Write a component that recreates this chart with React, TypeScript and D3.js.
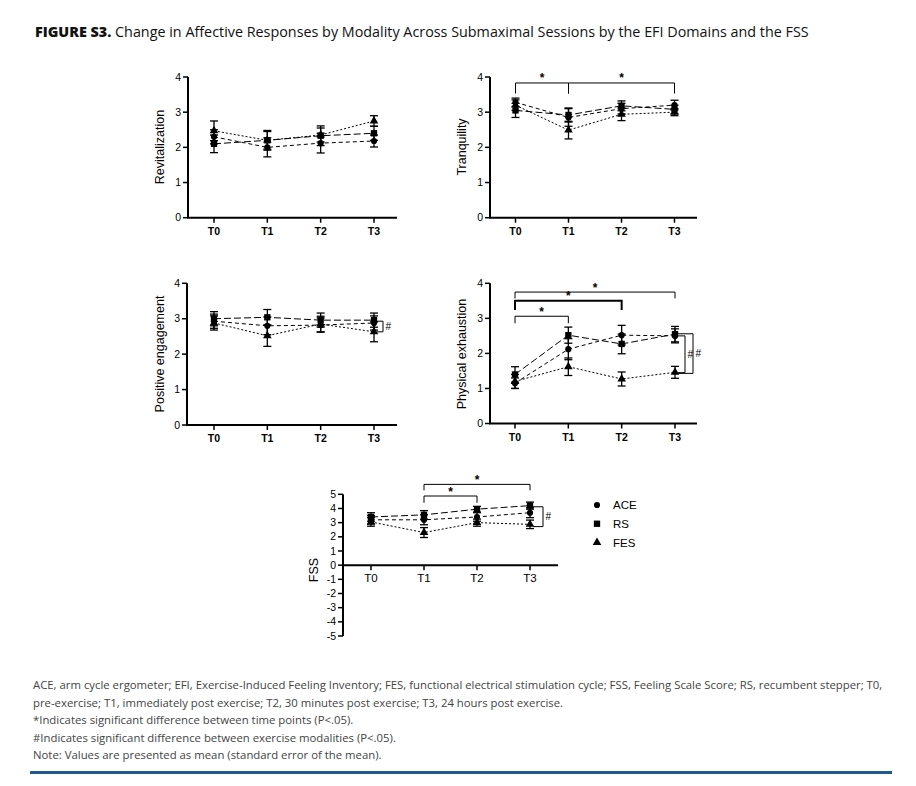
import * as d3 from 'd3';

const TIMES = ['T0', 'T1', 'T2', 'T3'];
const MODALITIES = ['ACE', 'RS', 'FES'];

// Revitalization (mean, SEM) per modality
const REV_ACE = [2.3, 2.0, 2.12, 2.18];
const REV_ACE_SEM = [0.2, 0.27, 0.28, 0.17];
const REV_RS = [2.1, 2.2, 2.33, 2.4];
const REV_RS_SEM = [0.25, 0.28, 0.28, 0.2];
const REV_FES = [2.47, 2.2, 2.35, 2.75];
const REV_FES_SEM = [0.28, 0.25, 0.2, 0.15];

// Tranquility
const TRA_ACE = [3.28, 2.85, 3.1, 3.2];
const TRA_ACE_SEM = [0.12, 0.25, 0.15, 0.14];
const TRA_RS = [3.05, 2.92, 3.18, 3.08];
const TRA_RS_SEM = [0.2, 0.2, 0.14, 0.12];
const TRA_FES = [3.2, 2.49, 2.94, 3.0];
const TRA_FES_SEM = [0.15, 0.25, 0.18, 0.1];

// Positive engagement
const POS_ACE = [2.93, 2.8, 2.82, 2.88];
const POS_ACE_SEM = [0.2, 0.25, 0.2, 0.2];
const POS_RS = [3.0, 3.04, 2.96, 2.96];
const POS_RS_SEM = [0.2, 0.22, 0.2, 0.2];
const POS_FES = [2.88, 2.52, 2.85, 2.63];
const POS_FES_SEM = [0.2, 0.3, 0.22, 0.28];

// Physical exhaustion
const PHY_ACE = [1.15, 2.12, 2.52, 2.5];
const PHY_ACE_SEM = [0.15, 0.3, 0.28, 0.2];
const PHY_RS = [1.4, 2.52, 2.27, 2.55];
const PHY_RS_SEM = [0.22, 0.23, 0.28, 0.22];
const PHY_FES = [1.2, 1.62, 1.27, 1.46];
const PHY_FES_SEM = [0.2, 0.25, 0.2, 0.17];

// Feeling Scale Score
const FSS_ACE = [3.2, 3.2, 3.4, 3.7];
const FSS_ACE_SEM = [0.3, 0.35, 0.3, 0.35];
const FSS_RS = [3.4, 3.55, 3.95, 4.2];
const FSS_RS_SEM = [0.3, 0.3, 0.2, 0.25];
const FSS_FES = [3.05, 2.3, 3.0, 2.88];
const FSS_FES_SEM = [0.3, 0.35, 0.25, 0.3];

const FOOTNOTES = [
  'ACE, arm cycle ergometer; EFI, Exercise-Induced Feeling Inventory; FES, functional electrical stimulation cycle; FSS, Feeling Scale Score; RS, recumbent stepper; T0,',
  'pre-exercise; T1, immediately post exercise; T2, 30 minutes post exercise; T3, 24 hours post exercise.',
  '*Indicates significant difference between time points (P<.05).',
  '#Indicates significant difference between exercise modalities (P<.05).',
  'Note: Values are presented as mean (standard error of the mean).',
];

const DASH: Record<string, string> = { ACE: '4,3', RS: '7,3', FES: '2,2' };
const SYMBOL: Record<string, d3.SymbolType> = {
  ACE: d3.symbolCircle,
  RS: d3.symbolSquare,
  FES: d3.symbolTriangle,
};
const SYMBOL_SIZE: Record<string, number> = { ACE: 30, RS: 40, FES: 32 };

const AXIS_FONT = '"Liberation Sans", Arial, sans-serif';
const TEXT_FONT = '"Open Sans", "Noto Sans", sans-serif';

type Series = { name: string; mean: number[]; sem: number[] };
type Bracket = { from: string; to: string; level: number; drop: number; bold?: boolean };
type Hash = { top: number; bottom: number; dx: number };

interface PanelCfg {
  title: string;
  series: Series[];
  axisX: number;
  axisEnd: number;
  t0: number;
  t3: number;
  yTop: number;
  yBottom: number;
  domain: [number, number];
  zeroAxis?: boolean;
  boldTicks: boolean;
  titleX: number;
  titleY: number;
  brackets: Bracket[];
  hashes: Hash[];
}

const mk = (a: number[], as: number[], b: number[], bs: number[], c: number[], cs: number[]): Series[] => [
  { name: 'ACE', mean: a, sem: as },
  { name: 'RS', mean: b, sem: bs },
  { name: 'FES', mean: c, sem: cs },
];

const PANELS: PanelCfg[] = [
  {
    title: 'Revitalization',
    series: mk(REV_ACE, REV_ACE_SEM, REV_RS, REV_RS_SEM, REV_FES, REV_FES_SEM),
    axisX: 188, axisEnd: 397, t0: 214, t3: 374, yTop: 77, yBottom: 217.7, domain: [0, 4],
    boldTicks: true, titleX: 164, titleY: 147, brackets: [], hashes: [],
  },
  {
    title: 'Tranquility',
    series: mk(TRA_ACE, TRA_ACE_SEM, TRA_RS, TRA_RS_SEM, TRA_FES, TRA_FES_SEM),
    axisX: 490, axisEnd: 697, t0: 515.5, t3: 674.5, yTop: 77, yBottom: 217.7, domain: [0, 4],
    boldTicks: true, titleX: 466, titleY: 147,
    brackets: [
      { from: 'T0', to: 'T1', level: 3.83, drop: 0.3 },
      { from: 'T1', to: 'T3', level: 3.83, drop: 0.3 },
    ],
    hashes: [],
  },
  {
    title: 'Positive engagement',
    series: mk(POS_ACE, POS_ACE_SEM, POS_RS, POS_RS_SEM, POS_FES, POS_FES_SEM),
    axisX: 187, axisEnd: 397, t0: 214, t3: 374, yTop: 283.3, yBottom: 425, domain: [0, 4],
    boldTicks: true, titleX: 164, titleY: 354, brackets: [],
    hashes: [{ top: 2.93, bottom: 2.63, dx: 9 }],
  },
  {
    title: 'Physical exhaustion',
    series: mk(PHY_ACE, PHY_ACE_SEM, PHY_RS, PHY_RS_SEM, PHY_FES, PHY_FES_SEM),
    axisX: 490, axisEnd: 697, t0: 515, t3: 675, yTop: 283.3, yBottom: 423.5, domain: [0, 4],
    boldTicks: true, titleX: 466, titleY: 354,
    brackets: [
      { from: 'T0', to: 'T3', level: 3.75, drop: 0.18 },
      { from: 'T0', to: 'T2', level: 3.5, drop: 0.26, bold: true },
      { from: 'T0', to: 'T1', level: 3.06, drop: 0.2 },
    ],
    hashes: [
      { top: 2.5, bottom: 1.45, dx: 10 },
      { top: 2.56, bottom: 1.43, dx: 18 },
    ],
  },
  {
    title: 'FSS',
    series: mk(FSS_ACE, FSS_ACE_SEM, FSS_RS, FSS_RS_SEM, FSS_FES, FSS_FES_SEM),
    axisX: 343, axisEnd: 558, t0: 371, t3: 530, yTop: 494.3, yBottom: 636, domain: [-5, 5],
    zeroAxis: true, boldTicks: false, titleX: 318, titleY: 570,
    brackets: [
      { from: 'T1', to: 'T3', level: 5.7, drop: 0.42 },
      { from: 'T1', to: 'T2', level: 4.88, drop: 0.48 },
    ],
    hashes: [{ top: 4.12, bottom: 2.72, dx: 13 }],
  },
];

function Panel({ cfg }: { cfg: PanelCfg }) {
  const x = d3.scalePoint<string>().domain(TIMES).range([cfg.t0, cfg.t3]);
  const y = d3.scaleLinear().domain(cfg.domain).range([cfg.yBottom, cfg.yTop]);
  const yTicks = d3.range(cfg.domain[0], cfg.domain[1] + 1);
  const xAxisY = cfg.zeroAxis ? y(0) : cfg.yBottom;
  const line = d3
    .line<number>()
    .x((_, i) => x(TIMES[i])!)
    .y((v) => y(v));
  const t3x = x('T3')!;

  return (
    <g>
      {/* axes */}
      <line x1={cfg.axisX} x2={cfg.axisX} y1={cfg.yTop} y2={cfg.yBottom} stroke="#000" strokeWidth={2} />
      <line x1={cfg.axisX - 1} x2={cfg.axisEnd} y1={xAxisY} y2={xAxisY} stroke="#000" strokeWidth={2} />
      {yTicks.map((t) => (
        <g key={t}>
          <line x1={cfg.axisX - 5} x2={cfg.axisX} y1={y(t)} y2={y(t)} stroke="#000" strokeWidth={1.5} />
          <text
            x={cfg.axisX - 7}
            y={y(t) + 3.6}
            textAnchor="end"
            fontSize={10.5}
            fontFamily={AXIS_FONT}
          >
            {t}
          </text>
        </g>
      ))}
      {TIMES.map((t) => (
        <g key={t}>
          <line x1={x(t)} x2={x(t)} y1={xAxisY} y2={xAxisY + 5} stroke="#000" strokeWidth={1.5} />
          <text
            x={x(t)}
            y={xAxisY + 17}
            textAnchor="middle"
            fontSize={cfg.boldTicks ? 10.5 : 11.5}
            fontWeight={cfg.boldTicks ? 'bold' : 'normal'}
            fontFamily={AXIS_FONT}
          >
            {t}
          </text>
        </g>
      ))}
      <text
        transform={`translate(${cfg.titleX},${cfg.titleY}) rotate(-90)`}
        textAnchor="middle"
        fontSize={12.5}
        fontFamily={AXIS_FONT}
      >
        {cfg.title}
      </text>

      {/* series lines */}
      {cfg.series.map((s) => (
        <path key={s.name} d={line(s.mean)!} fill="none" stroke="#000" strokeWidth={1} strokeDasharray={DASH[s.name]} />
      ))}
      {/* error bars */}
      {cfg.series.map((s) =>
        s.mean.map((m, i) => {
          const cx = x(TIMES[i])!;
          const hi = y(m + s.sem[i]);
          const lo = y(m - s.sem[i]);
          return (
            <g key={`${s.name}-${i}`} stroke="#000" strokeWidth={1.3}>
              <line x1={cx} x2={cx} y1={hi} y2={lo} />
              <line x1={cx - 4} x2={cx + 4} y1={hi} y2={hi} />
              <line x1={cx - 4} x2={cx + 4} y1={lo} y2={lo} />
            </g>
          );
        })
      )}
      {/* markers */}
      {cfg.series.map((s) =>
        s.mean.map((m, i) => (
          <path
            key={`m-${s.name}-${i}`}
            d={d3.symbol().type(SYMBOL[s.name]).size(SYMBOL_SIZE[s.name])()!}
            transform={`translate(${x(TIMES[i])},${y(m)})`}
            fill="#000"
          />
        ))
      )}

      {/* time-point significance brackets */}
      {cfg.brackets.map((b, i) => {
        const xa = x(b.from)!;
        const xb = x(b.to)!;
        const yl = y(b.level);
        const yd = y(b.level - b.drop);
        return (
          <g key={`b-${i}`}>
            <path
              d={`M${xa},${yd}V${yl}H${xb}V${yd}`}
              fill="none"
              stroke="#000"
              strokeWidth={b.bold ? 2 : 1}
            />
            <text x={(xa + xb) / 2} y={yl - 0.5} textAnchor="middle" fontSize={12} fontWeight="bold" fontFamily={AXIS_FONT}>
              *
            </text>
          </g>
        );
      })}

      {/* modality significance brackets */}
      {cfg.hashes.map((h, i) => {
        const xr = t3x + h.dx;
        const yt = y(h.top);
        const yb = y(h.bottom);
        return (
          <g key={`h-${i}`}>
            <path d={`M${t3x + 3},${yt}H${xr}V${yb}H${t3x + 3}`} fill="none" stroke="#000" strokeWidth={1} />
            <text x={xr + 2.5} y={(yt + yb) / 2 + 3.5} fontSize={10} fontFamily={AXIS_FONT}>
              #
            </text>
          </g>
        );
      })}
    </g>
  );
}

function Legend() {
  const y = d3.scalePoint<string>().domain(MODALITIES).range([505, 542.5]);
  return (
    <g>
      {MODALITIES.map((m) => (
        <g key={m} transform={`translate(597,${y(m)})`}>
          <path d={d3.symbol().type(SYMBOL[m]).size(SYMBOL_SIZE[m])()!} fill="#000" />
          <text x={16} y={4} fontSize={11.5} fontFamily={AXIS_FONT}>
            {m}
          </text>
        </g>
      ))}
    </g>
  );
}

export default function App() {
  return (
    <svg
      width={916}
      height={786}
      style={{ position: 'absolute', left: 0, top: 0, background: '#fff' }}
    >
      <rect width={916} height={786} fill="#fff" />
      <text x={35} y={37} fontSize={14.35} fontFamily={TEXT_FONT} fill="#111">
        <tspan fontWeight={800}>FIGURE S3.</tspan> Change in Affective Responses by Modality Across Submaximal
        Sessions by the EFI Domains and the FSS
      </text>
      {PANELS.map((p) => (
        <Panel key={p.title} cfg={p} />
      ))}
      <Legend />
      {FOOTNOTES.map((f, i) => (
        <text key={i} x={33} y={689 + i * 17.5} fontSize={11.35} fontFamily={TEXT_FONT} fill="#444">
          {f}
        </text>
      ))}
      <rect x={30} y={771} width={862} height={3} fill="#1f5b8e" />
    </svg>
  );
}
